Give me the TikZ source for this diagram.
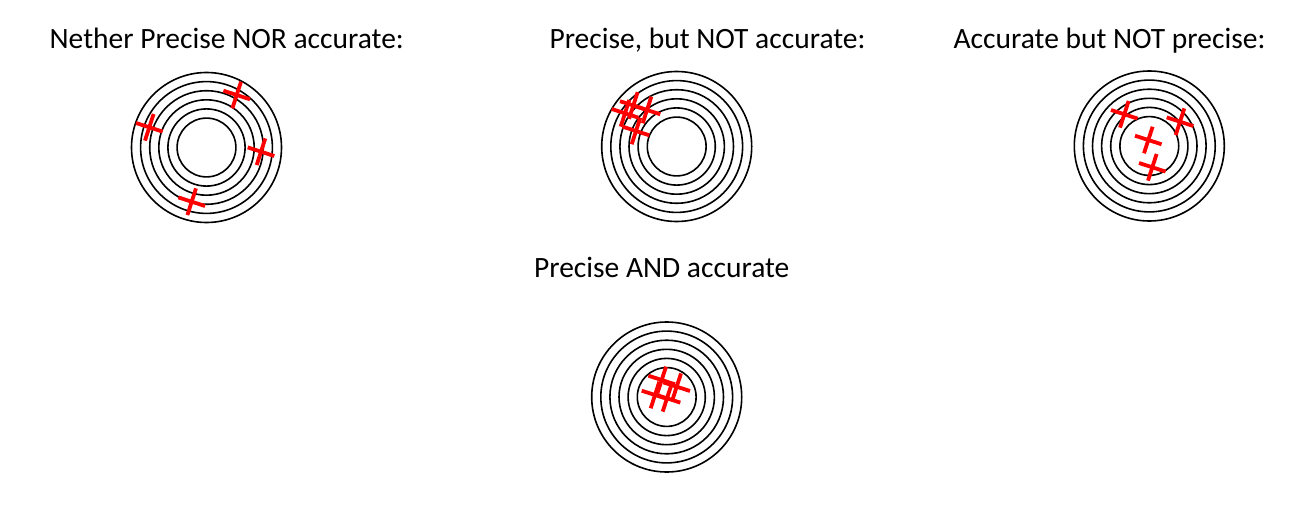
\documentclass[tikz,border=0pt]{standalone}
\usepackage{fontspec}
\setmainfont{Carlito}
\begin{document}
\begin{tikzpicture}[x=1pt,y=-1pt,
  ring/.style={draw=black,line width=1.6pt},
  hit/.style={draw=red,line width=3.8pt},
  title/.style={font=\fontsize{29.5}{34}\selectfont,inner sep=0pt,anchor=base},
  xmark/.pic={\draw[hit] (-13.3,-4.3) -- (13.3,4.3); \draw[hit] (4.3,-13.3) -- (-4.3,13.3);},
  target/.pic={\foreach \r in {75,65.9,56.8,47.7,38.6,29.4} \draw[ring] (0,0) circle[radius=\r];}]
\useasboundingbox (0,0) rectangle (1303,516);
% target centres
\coordinate (t1) at (206.5,147.5);
\coordinate (t2) at (676.7,146.5);
\coordinate (t3) at (1149.3,146);
\coordinate (t4) at (666.7,397);
% titles
\node[title] (l1) at (226.7,48.3) {Nether Precise NOR accurate:};
\node[title] (l2) at (707.5,48.3) {Precise, but NOT accurate:};
\node[title] (l3) at (1109.5,48.3) {Accurate but NOT precise:};
\node[title] (l4) at (661.7,277.5) {Precise AND accurate};
% targets
\pic at (t1) {target};
\pic at (t2) {target};
\pic at (t3) {target};
\pic at (t4) {target};
% target 1 hits
\pic at (236.7,95) {xmark};
\pic at (149.3,127.3) {xmark};
\pic at (261,151.7) {xmark};
\pic at (191.7,201.7) {xmark};
% target 2 hits
\pic at (633.3,105.5) {xmark};
\pic at (647,110) {xmark};
\pic at (625,113.3) {xmark};
\pic at (636,131) {xmark};
% target 3 hits
\pic at (1124.3,114.3) {xmark};
\pic at (1180,121.7) {xmark};
\pic at (1148.3,140) {xmark};
\pic at (1152.3,167.3) {xmark};
% target 4 hits
\pic at (661.7,380) {xmark};
\pic at (676.7,386.7) {xmark};
\pic at (655,395) {xmark};
\pic at (667,398.3) {xmark};
\end{tikzpicture}
\end{document}
